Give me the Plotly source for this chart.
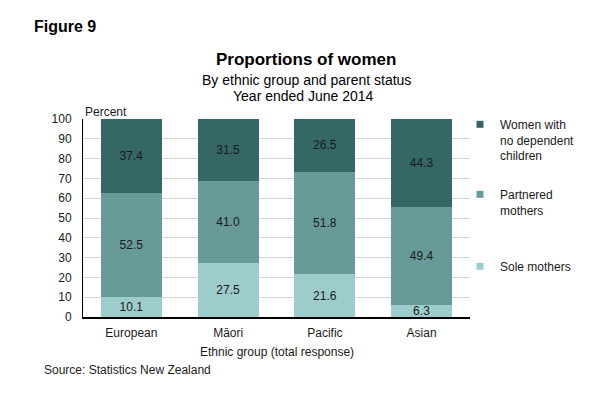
import plotly.graph_objects as go

categories = ["European", "Māori", "Pacific", "Asian"]
sole_mothers = [10.1, 27.5, 21.6, 6.3]
partnered_mothers = [52.5, 41.0, 51.8, 49.4]
no_dependent = [37.4, 31.5, 26.5, 44.3]
y_ticks = [0, 10, 20, 30, 40, 50, 60, 70, 80, 90, 100]

series = [
    ("Sole mothers", sole_mothers, "#9dcccc", "legend3"),
    ("Partnered<br>mothers", partnered_mothers, "#689a9a", "legend2"),
    ("Women with<br>no dependent<br>children", no_dependent, "#356767", "legend"),
]

FONT = "Liberation Sans, Arial, sans-serif"

fig = go.Figure()
for name, vals, col, lg in series:
    fig.add_trace(go.Bar(
        x=categories, y=vals, name=name, marker=dict(color=col, line=dict(width=0)),
        texttemplate="%{y:.1f}", textposition="inside", insidetextanchor="middle",
        textangle=0, insidetextfont=dict(size=12, color="#1a1a1a", family=FONT),
        showlegend=False, hoverinfo="skip",
    ))
for name, vals, col, lg in series:
    fig.add_trace(go.Scatter(
        x=[None], y=[None], mode="markers", name=name, legend=lg,
        marker=dict(symbol="square", size=7, color=col), showlegend=True,
    ))

W, H = 592, 393
L, R, T, B = 83, 122, 119, 76
pw, ph = W - L - R, H - T - B

def px(x):
    return (x - L) / pw

def py(y):
    return (H - B - y) / ph

leg_common = dict(font=dict(size=12, color="#1a1a1a", family=FONT), bgcolor="rgba(0,0,0,0)",
                  xanchor="left", yanchor="top", valign="top", itemwidth=30, tracegroupgap=0)

fig.update_layout(
    width=W, height=H,
    margin=dict(l=L, r=R, t=T, b=B, autoexpand=False),
    paper_bgcolor="white", plot_bgcolor="white",
    barmode="stack", bargap=0.37,
    font=dict(family=FONT, size=12, color="#1a1a1a"),
    uniformtext=dict(minsize=12, mode="show"),
    legend=dict(x=px(460), y=py(110), **leg_common),
    legend2=dict(x=px(460), y=py(180), **leg_common),
    legend3=dict(x=px(460), y=py(252), **leg_common),
    xaxis=dict(showgrid=False, showline=True, linecolor="black", linewidth=1.5,
               ticks="", tickfont=dict(size=12, color="#1a1a1a"), ticklabelstandoff=4),
    yaxis=dict(range=[0, 100], tickvals=y_ticks, showgrid=True, gridcolor="#d4d4d4",
               gridwidth=1, showline=True, linecolor="black", linewidth=1, ticks="",
               tickfont=dict(size=12, color="#1a1a1a"), ticklabelstandoff=8, zeroline=False),
    annotations=[
        dict(text="<b>Figure 9</b>", x=px(32), y=py(27), xref="paper", yref="paper",
             xanchor="left", yanchor="middle", showarrow=False, font=dict(size=16, color="#000")),
        dict(text="<b>Proportions of women</b>", x=px(306), y=py(60), xref="paper", yref="paper",
             xanchor="center", yanchor="middle", showarrow=False, font=dict(size=17, color="#000")),
        dict(text="By ethnic group and parent status", x=px(306), y=py(80), xref="paper", yref="paper",
             xanchor="center", yanchor="middle", showarrow=False, font=dict(size=14, color="#000")),
        dict(text="Year ended June 2014", x=px(303), y=py(96), xref="paper", yref="paper",
             xanchor="center", yanchor="middle", showarrow=False, font=dict(size=14, color="#000")),
        dict(text="Percent", x=px(83), y=py(112), xref="paper", yref="paper",
             xanchor="left", yanchor="middle", showarrow=False, font=dict(size=12, color="#1a1a1a")),
        dict(text="Ethnic group (total response)", x=px(277), y=py(352), xref="paper", yref="paper",
             xanchor="center", yanchor="middle", showarrow=False, font=dict(size=12, color="#1a1a1a")),
        dict(text="Source: Statistics New Zealand", x=px(42), y=py(370), xref="paper", yref="paper",
             xanchor="left", yanchor="middle", showarrow=False, font=dict(size=12, color="#1a1a1a")),
    ],
)

fig.write_html("out.html", config={"displayModeBar": False},
               post_script="document.body.style.margin='0';document.body.style.padding='0';")
